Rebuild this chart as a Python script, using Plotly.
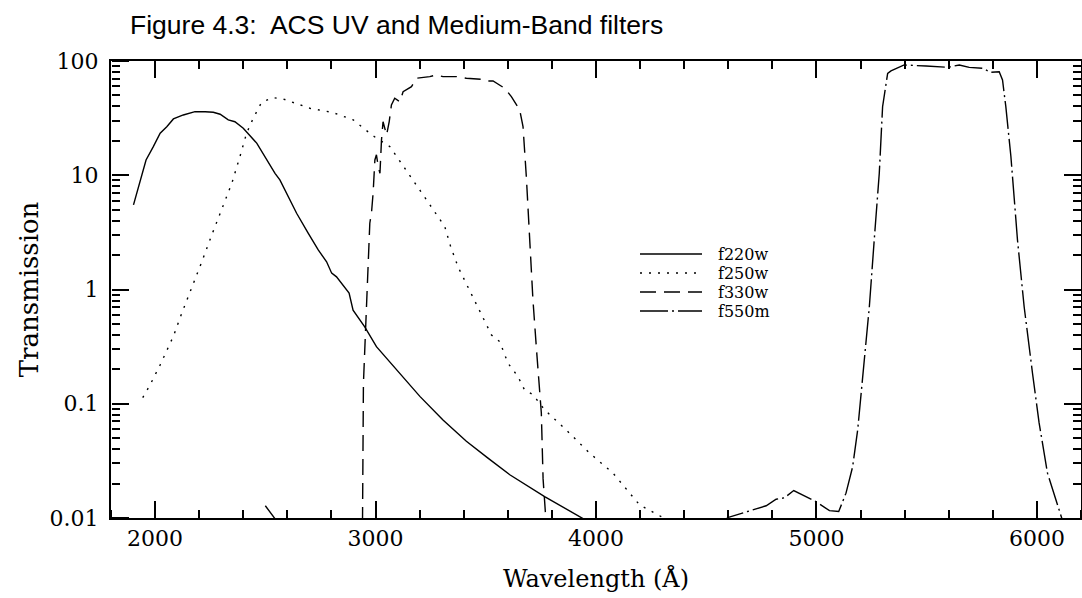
import plotly.graph_objects as go

# ---------------- data ----------------
f220w_wl = [1902, 1959, 1992, 2023, 2053, 2083, 2128, 2181, 2227, 2264, 2295, 2332, 2362, 2400,
            2461, 2506, 2544, 2566, 2604, 2642, 2695, 2740, 2778, 2801, 2823, 2861, 2880, 2898,
            2951, 3004, 3110, 3201, 3306, 3412, 3510, 3609, 3767, 3933, 4000]
f220w_T = [5.5, 13.6, 17.8, 23.3, 26.6, 31.1, 33.7, 36.0, 36.0, 35.6, 34.2, 30.5, 29.4, 25.8,
           19.1, 13.6, 10.4, 9.1, 6.5, 4.65, 3.1, 2.22, 1.75, 1.39, 1.29, 1.03, 0.93, 0.66,
           0.47, 0.316, 0.185, 0.116, 0.072, 0.047, 0.0334, 0.0239, 0.0154, 0.0101, 0.0085]

f250w_wl = [1944, 1977, 2023, 2083, 2121, 2166, 2212, 2257, 2302, 2348, 2385, 2415, 2445, 2483,
            2536, 2581, 2702, 2808, 2899, 2989, 3065, 3155, 3231, 3314, 3340, 3374, 3412, 3473,
            3526, 3563, 3601, 3646, 3676, 3714, 3767, 3865, 3971, 4077, 4198, 4303, 4350]
f250w_T = [0.113, 0.146, 0.219, 0.39, 0.62, 1.03, 1.75, 3.0, 5.1, 8.5, 14.6, 23.3, 31.5, 43.5,
           47.8, 46.5, 38.6, 35.3, 30.5, 22.1, 17.8, 10.1, 6.1, 3.55, 2.4, 1.58, 1.13, 0.66,
           0.40, 0.35, 0.226, 0.173, 0.132, 0.12, 0.0885, 0.059, 0.037, 0.0247, 0.013, 0.0101, 0.0085]

f330w_wl = [2500, 2550, 2650, 2850, 2935, 2941, 2945, 2959, 2967, 2974, 2982, 2989, 2997, 3004,
            3012, 3020, 3027, 3034, 3050, 3062, 3072, 3087, 3110, 3125, 3163, 3186, 3246, 3276,
            3306, 3367, 3412, 3480, 3503, 3533, 3586, 3616, 3654, 3669, 3684, 3696, 3705, 3714,
            3730, 3740, 3752, 3760, 3772, 3790]
f330w_T = [0.0128, 0.0095, 0.006, 0.004, 0.008, 0.0101, 0.15, 0.84, 2.2, 3.8, 4.8, 7.0, 13.6, 15.1,
           12.0, 10.4, 20.4, 29.4, 22.5, 29.5, 41.2, 47.2, 44.0, 53.8, 59.6, 70.6, 73.0, 75.5,
           73.0, 73.0, 70.6, 69.2, 66.8, 66.8, 57.7, 48.8, 37.3, 26.6, 9.7, 3.55, 1.5, 0.81,
           0.3, 0.16, 0.083, 0.022, 0.0101, 0.005]

f550m_wl = [4560, 4598, 4688, 4772, 4817, 4854, 4897, 4953, 4998, 5059, 5101, 5134, 5164, 5187,
            5209, 5240, 5262, 5285, 5300, 5308, 5323, 5338, 5398, 5497, 5595, 5648, 5693, 5753,
            5791, 5829, 5844, 5859, 5882, 5912, 5942, 5980, 6010, 6048, 6100, 6120]
f550m_T = [0.0085, 0.0101, 0.0114, 0.0128, 0.0146, 0.015, 0.0174, 0.0154, 0.0139, 0.0116, 0.0114,
           0.0165, 0.028, 0.059, 0.17, 0.71, 2.7, 10.4, 39.8, 52, 78, 82, 92.3, 90.4, 88, 92.3,
           88, 86.3, 79.6, 80.6, 68.2, 39.8, 14.6, 2.7, 0.71, 0.185, 0.068, 0.0247, 0.0118, 0.009]

series_names = ["f220w", "f250w", "f330w", "f550m"]
x_tick_vals = [2000, 3000, 4000, 5000, 6000]
x_tick_text = ["2000", "3000", "4000", "5000", "6000"]
y_tick_vals = [0.01, 0.1, 1, 10, 100]
y_tick_text = ["0.01", "0.1", "1", "10", "100"]

# ---------------- styling ----------------
W, H = 1082, 598
L, R, T, B = 111, 1, 61, 80
SERIF = "DejaVu Serif"
dashes = ["solid", "2px,7px", "16px,8px", "28px,4px,2px,4px"]
LW = 1.4
X_RANGE = [1800, 6200]
Y_RANGE = [-2, 2]

fig = go.Figure()
data = [(f220w_wl, f220w_T), (f250w_wl, f250w_T), (f330w_wl, f330w_T), (f550m_wl, f550m_T)]
for (wl, tr), name, dash in zip(data, series_names, dashes):
    fig.add_trace(go.Scatter(x=wl, y=tr, mode="lines", name=name, showlegend=False,
                             line=dict(color="black", width=LW, dash=dash)))
# empty traces that create the tick-only axes on all four sides
fig.add_trace(go.Scatter(x=[], y=[], xaxis="x2", yaxis="y2", showlegend=False, hoverinfo="skip"))
fig.add_trace(go.Scatter(x=[], y=[], xaxis="x3", yaxis="y3", showlegend=False, hoverinfo="skip"))

# legend drawn by hand so that the sample lines are as long as in the reference
pw, ph = W - L - R, H - T - B
def px2x(p):
    return (p - L) / pw
def py2y(p):
    return 1 - (p - T) / ph
rows = [254, 273, 292, 311]
for name, dash, ry in zip(series_names, dashes, rows):
    fig.add_shape(type="line", xref="paper", yref="paper",
                  x0=px2x(640), x1=px2x(702), y0=py2y(ry), y1=py2y(ry),
                  line=dict(color="black", width=LW, dash=dash))
    fig.add_annotation(xref="paper", yref="paper", x=px2x(716), y=py2y(ry),
                       text=name, showarrow=False, xanchor="left", yanchor="middle",
                       font=dict(family=SERIF, size=16, color="black"))

tick_font = dict(family=SERIF, size=22, color="black")

def tick_only(direction):
    return dict(ticks=direction, ticklen=17, tickwidth=1.5, tickcolor="black",
                showgrid=False, zeroline=False, showline=False, showticklabels=False)
def minor_style(direction):
    return dict(ticks=direction, ticklen=8, tickwidth=1.5, tickcolor="black", showgrid=False)

# main axes: frame, labels and titles
xaxis_main = dict(range=X_RANGE, tickmode="array", tickvals=x_tick_vals, ticktext=x_tick_text,
                  ticks="", showgrid=False, zeroline=False, tickfont=tick_font,
                  showline=True, linecolor="black", linewidth=2, mirror=True,
                  title=dict(text="Wavelength (Å)", font=dict(family=SERIF, size=24, color="black"),
                             standoff=20))
yaxis_main = dict(type="log", range=Y_RANGE, tickmode="array", tickvals=y_tick_vals,
                  ticktext=y_tick_text, ticklabelstandoff=6,
                  ticks="", showgrid=False, zeroline=False, tickfont=tick_font,
                  showline=True, linecolor="black", linewidth=2, mirror=True,
                  title=dict(text="Transmission", font=dict(family=SERIF, size=26, color="black"),
                             standoff=4))

# tick-only axes: top/right use inside ticks; for the bottom/left edges an axis
# with the opposite side is placed on that edge so its outside ticks point inwards
xaxis_top = dict(range=X_RANGE, tickmode="array", tickvals=x_tick_vals,
                 minor=dict(dtick=200, tick0=0, **minor_style("inside")),
                 overlaying="x", side="top", anchor="y2", **tick_only("inside"))
yaxis_right = dict(type="log", range=Y_RANGE, tickmode="array", tickvals=y_tick_vals,
                   minor=dict(dtick="D1", **minor_style("inside")),
                   overlaying="y", side="right", anchor="x2", **tick_only("inside"))
xaxis_bottom = dict(range=X_RANGE, tickmode="array", tickvals=x_tick_vals,
                    minor=dict(dtick=200, tick0=0, **minor_style("outside")),
                    overlaying="x", side="top", anchor="free", position=0,
                    **tick_only("outside"))
yaxis_left = dict(type="log", range=Y_RANGE, tickmode="array", tickvals=y_tick_vals,
                  minor=dict(dtick="D1", **minor_style("outside")),
                  overlaying="y", side="right", anchor="free", position=0,
                  **tick_only("outside"))

fig.update_layout(
    template="none",
    width=W, height=H, autosize=False,
    margin=dict(l=L, r=R, t=T, b=B),
    paper_bgcolor="white", plot_bgcolor="white",
    showlegend=False,
    xaxis=xaxis_main, yaxis=yaxis_main,
    xaxis2=xaxis_top, yaxis2=yaxis_right,
    xaxis3=xaxis_bottom, yaxis3=yaxis_left,
    title=dict(text="Figure 4.3:  ACS UV and Medium-Band filters",
               x=130 / W, xanchor="left", y=1 - 25 / H, yanchor="middle",
               font=dict(family="Liberation Sans", size=26.5, color="black")),
)

fig.write_html("out.html")
